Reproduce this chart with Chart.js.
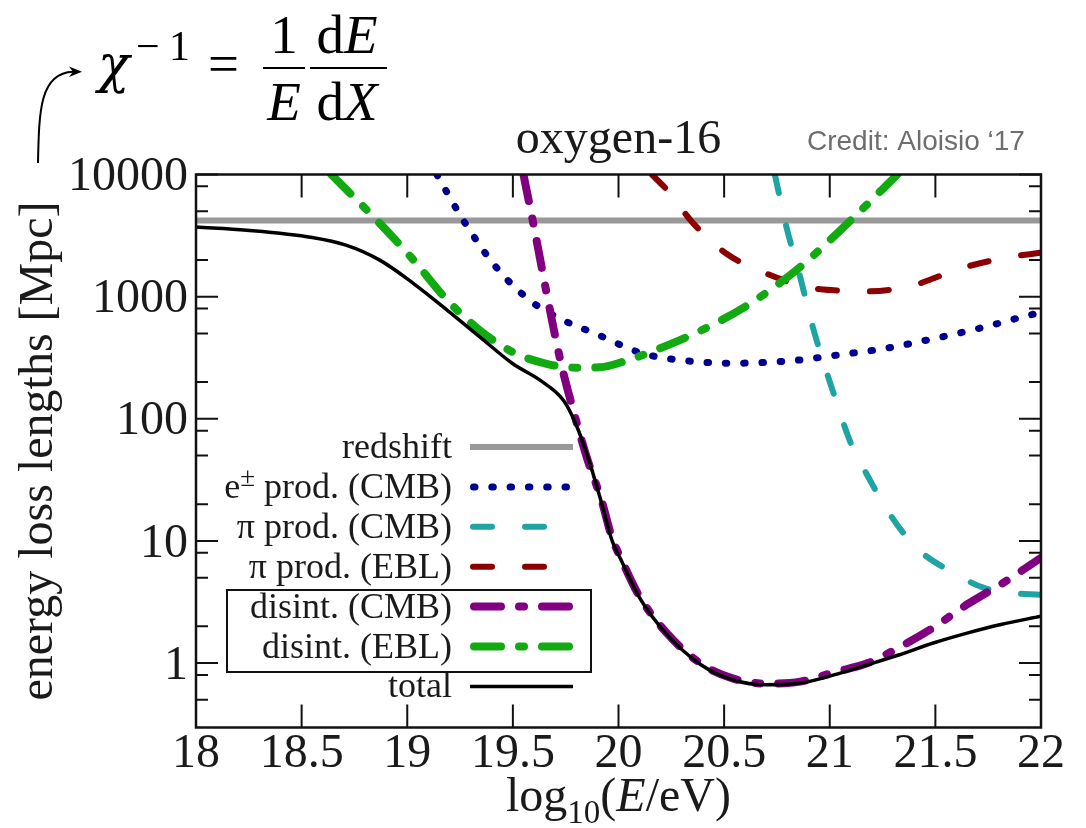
<!DOCTYPE html>
<html>
<head>
<meta charset="utf-8">
<title>oxygen-16 energy loss lengths</title>
<script src="https://cdn.jsdelivr.net/npm/chart.js@4.4.1/dist/chart.umd.min.js"></script>
<style>
  html, body { margin: 0; padding: 0; background: #fff; }
</style>
</head>
<body>
<canvas id="chart" width="1086" height="828"></canvas>
<script>
// Energy loss lengths of oxygen-16 nuclei vs log10(E/eV)

const SERIF = "'Liberation Serif', 'Times New Roman', serif";
const GREEK = "'DejaVu Serif', serif";
const INK = '#1a1a1a';

// x = log10(E/eV), y = loss length in Mpc
const redshiftX = [18, 22];
const redshiftY = [4200, 4200];

const eppX = [19.14, 19.265, 19.42, 19.58, 19.74, 19.9, 20.05, 20.12, 20.31, 20.54, 20.83, 21.02, 21.25, 21.49, 21.7, 21.96, 22.0];
const eppY = [10000, 4230, 1750, 933, 640, 490, 376, 340, 300, 285, 300, 330, 374, 452, 546, 716, 741];

const piCmbX = [20.74, 20.795, 20.86, 20.92, 21.02, 21.1, 21.175, 21.285, 21.41, 21.57, 21.73, 21.85, 22.0];
const piCmbY = [10000, 3720, 1445, 562, 158, 63, 35.2, 16.5, 8.79, 5.66, 4.13, 3.76, 3.63];

const piEblX = [20.157, 20.23, 20.354, 20.51, 20.7, 20.89, 21.02, 21.175, 21.395, 21.617, 21.838, 22.0];
const piEblY = [10000, 7460, 3980, 2255, 1545, 1200, 1127, 1104, 1239, 1698, 2089, 2291];

const disCmbX = [19.55, 19.6, 19.66, 19.725, 19.786, 19.85, 19.92, 19.97, 20.01, 20.1, 20.23, 20.39, 20.54, 20.7, 20.86, 21.02, 21.18, 21.33, 21.49, 21.65, 21.81, 22.0];
const disCmbY = [10000, 3720, 1060, 300, 117, 48.2, 21.4, 10.5, 7.3, 3.5, 1.75, 0.99, 0.75, 0.68, 0.705, 0.84, 1.0, 1.35, 1.95, 3.02, 4.42, 7.28];

const disEblX = [18.64, 18.87, 19.03, 19.19, 19.345, 19.5, 19.66, 19.8, 19.91, 20.04, 20.15, 20.39, 20.62, 20.86, 21.1, 21.32];
const disEblY = [10000, 3980, 1990, 933, 528, 351, 282, 262, 264, 300, 351, 528, 871, 1750, 4230, 10000];

const totalX = [18, 18.24, 18.55, 18.71, 18.87, 19.03, 19.19, 19.345, 19.5, 19.63, 19.74, 19.8, 19.86, 19.92, 19.97, 20.01, 20.1, 20.23, 20.39, 20.54, 20.7, 20.86, 21.02, 21.18, 21.33, 21.49, 21.65, 21.81, 22.0];
const totalY = [3720, 3500, 3050, 2640, 1990, 1280, 773, 466, 282, 206, 141, 89, 45.7, 20.4, 10, 7.1, 3.42, 1.71, 0.97, 0.731, 0.664, 0.686, 0.80, 0.97, 1.17, 1.46, 1.76, 2.07, 2.42];

const xTicks = [18, 18.5, 19, 19.5, 20, 20.5, 21, 21.5, 22];
const yTicks = [1, 10, 100, 1000, 10000];
const yMinorTicks = [0.5, 0.8, 2, 5, 8, 20, 50, 80, 200, 500, 800, 2000, 5000, 8000];

const pts = (xs, ys) => xs.map((x, i) => ({ x, y: ys[i] }));

const line = (label, xs, ys, color, width, dash, order) => ({
  label,
  data: pts(xs, ys),
  borderColor: color,
  borderWidth: width,
  borderDash: dash,
  borderCapStyle: dash.length ? 'round' : 'butt',
  borderJoinStyle: 'round',
  cubicInterpolationMode: 'monotone',
  pointRadius: 0,
  fill: false,
  order
});

const datasets = [
  line('redshift', redshiftX, redshiftY, '#999999', 6, [], 6),
  line('e\u00B1 prod. (CMB)', eppX, eppY, '#000090', 7, [1.5, 16.8], 5),
  line('\u03C0 prod. (CMB)', piCmbX, piCmbY, '#1fa3a3', 6, [19, 33], 4),
  line('\u03C0 prod. (EBL)', piEblX, piEblY, '#8b0000', 6, [19, 33], 3),
  line('disint. (CMB)', disCmbX, disCmbY, '#800080', 8, [27, 18, 5, 18], 2),
  line('disint. (EBL)', disEblX, disEblY, '#11aa11', 8, [27, 18, 5, 18], 1),
  line('total', totalX, totalY, '#000000', 3.5, [], 0)
];

// draws a run of text pieces [{t, font, dy}] starting at x
function runWidth(ctx, parts) {
  return parts.reduce((w, p) => { ctx.font = p.font; return w + ctx.measureText(p.t).width; }, 0);
}
function drawRun(ctx, parts, x, y) {
  ctx.textAlign = 'left';
  parts.forEach(p => {
    ctx.font = p.font;
    ctx.fillText(p.t, x, y + (p.dy || 0));
    x += ctx.measureText(p.t).width;
  });
}

function drawLegend(chart) {
  const ctx = chart.ctx;
  const textRight = 452, x0 = 470, x1 = 573;
  chart.data.datasets.forEach((ds, i) => {
    const yy = 447 + i * 39.9;
    ctx.save();
    ctx.strokeStyle = ds.borderColor;
    ctx.lineWidth = ds.borderWidth;
    ctx.lineCap = ds.borderCapStyle;
    ctx.setLineDash(ds.borderDash);
    const inset = ds.borderCapStyle === 'round' ? ds.borderWidth / 2 : 0;
    ctx.beginPath();
    ctx.moveTo(x0 + inset, yy);
    ctx.lineTo(x1 - inset, yy);
    ctx.stroke();
    ctx.restore();

    ctx.fillStyle = INK;
    ctx.textBaseline = 'alphabetic';
    const base = '36px ' + SERIF;
    let parts;
    if (ds.label.indexOf('\u00B1') >= 0) {
      const [a, b] = ds.label.split('\u00B1');
      parts = [{ t: a, font: base }, { t: '\u00B1', font: '27px ' + SERIF, dy: -12 }, { t: b, font: base }];
    } else {
      parts = [{ t: ds.label, font: base }];
    }
    drawRun(ctx, parts, textRight - runWidth(ctx, parts), yy + 11);
  });
  // box round the two disintegration entries
  ctx.save();
  ctx.strokeStyle = '#111';
  ctx.lineWidth = 2;
  ctx.strokeRect(227, 590, 364, 82);
  ctx.restore();
}

const decor = {
  id: 'decor',
  afterDatasetsDraw(chart) {
    const { ctx, chartArea: a, scales: { x, y } } = chart;
    ctx.save();
    ctx.strokeStyle = '#111';
    ctx.lineWidth = 2;
    ctx.beginPath();
    xTicks.forEach(v => {
      const px = x.getPixelForValue(v);
      ctx.moveTo(px, a.bottom); ctx.lineTo(px, a.bottom - 23);
      ctx.moveTo(px, a.top); ctx.lineTo(px, a.top + 23);
    });
    const yMark = (v, len) => {
      const py = y.getPixelForValue(v);
      ctx.moveTo(a.left, py); ctx.lineTo(a.left + len, py);
      ctx.moveTo(a.right, py); ctx.lineTo(a.right - len, py);
    };
    yTicks.forEach(v => yMark(v, 22));
    yMinorTicks.forEach(v => yMark(v, 12));
    ctx.stroke();
    ctx.lineWidth = 2.5;
    ctx.strokeRect(a.left, a.top, a.right - a.left, a.bottom - a.top);
    ctx.restore();

    ctx.save();
    drawLegend(chart);
    ctx.restore();
  },
  afterDraw(chart) {
    const ctx = chart.ctx;
    const a = chart.chartArea;
    ctx.save();
    ctx.fillStyle = INK;
    ctx.textBaseline = 'alphabetic';

    // panel title
    ctx.font = '48px ' + SERIF;
    ctx.textAlign = 'center';
    ctx.fillText('oxygen-16', (a.left + a.right) / 2, 153);

    // x axis title: log10(E/eV)
    const f = '48px ' + SERIF;
    const xt = [
      { t: 'log', font: f },
      { t: '10', font: '33px ' + SERIF, dy: 12 },
      { t: '(', font: f },
      { t: 'E', font: 'italic ' + f },
      { t: '/eV)', font: f }
    ];
    drawRun(ctx, xt, (a.left + a.right) / 2 - runWidth(ctx, xt) / 2, 811);

    // credit
    ctx.fillStyle = '#6e6e6e';
    ctx.font = "28px 'Liberation Sans', Arial, sans-serif";
    ctx.textAlign = 'left';
    ctx.fillText('Credit: Aloisio \u201817', 807, 150);

    // definition of the loss length
    ctx.fillStyle = '#000';
    const m = '55px ' + SERIF, mi = 'italic 55px ' + SERIF;
    ctx.textAlign = 'left';
    ctx.font = 'italic 52px ' + GREEK; ctx.fillText('\u03C7', 98, 82);
    ctx.font = '42px ' + SERIF;
    ctx.fillText('\u2212', 136, 60);
    ctx.fillText('1', 169, 60);
    ctx.font = m; ctx.fillText('=', 208, 82);
    ctx.fillRect(263, 67, 42, 2);
    ctx.fillRect(310, 67, 77, 2);
    ctx.textAlign = 'center';
    ctx.font = m; ctx.fillText('1', 284, 53);
    ctx.font = mi; ctx.fillText('E', 284, 120);
    const num = [{ t: 'd', font: m }, { t: 'E', font: mi }];
    const den = [{ t: 'd', font: m }, { t: 'X', font: mi }];
    drawRun(ctx, num, 347 - runWidth(ctx, num) / 2, 53);
    drawRun(ctx, den, 347 - runWidth(ctx, den) / 2, 120);

    // arrow from the axis label up to the formula
    ctx.strokeStyle = '#000';
    ctx.lineWidth = 2;
    ctx.beginPath();
    ctx.moveTo(38, 163);
    ctx.bezierCurveTo(39, 110, 40, 73, 73, 71.7);
    ctx.stroke();
    ctx.beginPath();
    ctx.moveTo(82, 71.7);
    ctx.lineTo(69, 66.5);
    ctx.lineTo(73, 71.7);
    ctx.lineTo(69, 77);
    ctx.closePath();
    ctx.fill();
    ctx.restore();
  }
};

new Chart(document.getElementById('chart'), {
  type: 'line',
  data: { datasets },
  options: {
    responsive: false,
    animation: false,
    layout: { padding: { left: 0, top: 174.5, right: 45, bottom: 0 } },
    plugins: { legend: { display: false }, tooltip: { enabled: false } },
    scales: {
      x: {
        type: 'linear',
        min: 18,
        max: 22,
        afterBuildTicks: s => { s.ticks = xTicks.map(v => ({ value: v })); },
        afterFit: s => { s.height = 100.5; },
        grid: { display: false, drawTicks: false },
        border: { display: false },
        ticks: {
          autoSkip: false,
          maxRotation: 0,
          padding: 0,
          color: INK,
          font: { family: SERIF, size: 48, lineHeight: 1.1 },
          callback: v => String(v)
        }
      },
      y: {
        type: 'logarithmic',
        min: 0.297,
        max: 10000,
        afterBuildTicks: s => { s.ticks = yTicks.map(v => ({ value: v })); },
        afterFit: s => { s.width = 196; },
        grid: { display: false, drawTicks: false },
        border: { display: false },
        title: {
          display: true,
          text: 'energy loss lengths [Mpc]',
          color: INK,
          font: { family: SERIF, size: 48 },
          padding: { top: 11, bottom: 0 }
        },
        ticks: {
          autoSkip: false,
          padding: 8,
          labelOffset: 3,
          color: INK,
          font: { family: SERIF, size: 48 },
          callback: v => String(v)
        }
      }
    }
  },
  plugins: [decor]
});
</script>
</body>
</html>
